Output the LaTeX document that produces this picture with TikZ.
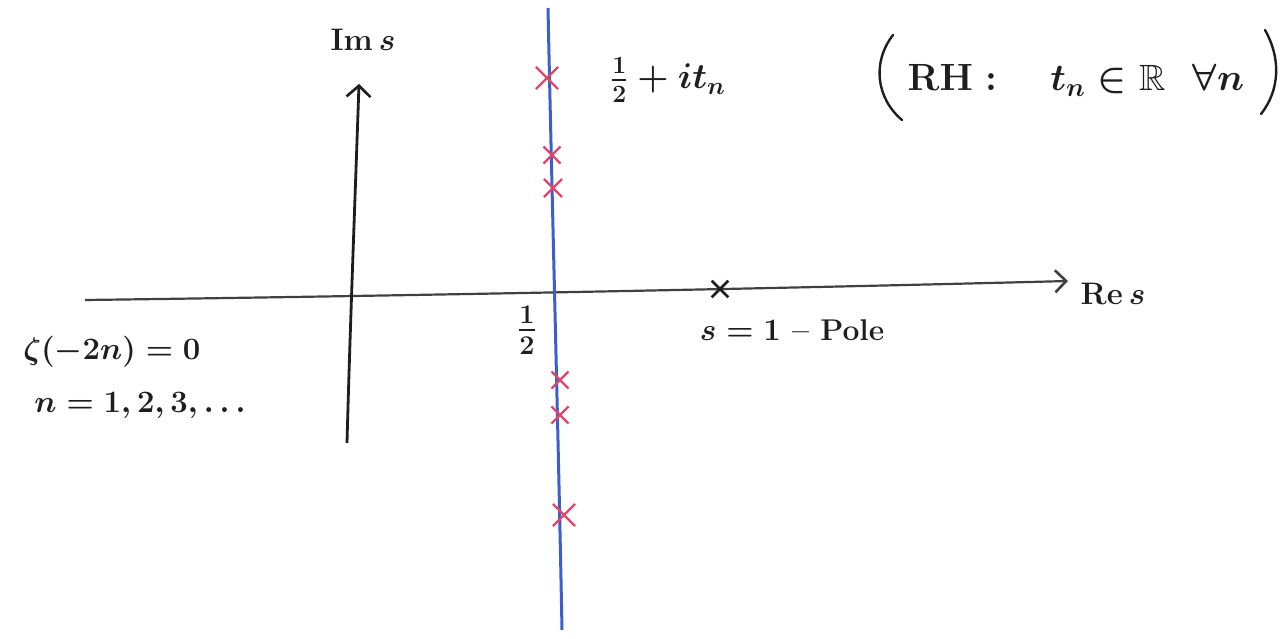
\documentclass[tikz,border=0pt]{standalone}
\usepackage{amssymb}
\usetikzlibrary{arrows.meta,shapes.misc}
\definecolor{penblue}{RGB}{60,95,205}
\definecolor{penred}{RGB}{225,70,105}
\definecolor{ink}{RGB}{30,30,30}
\tikzset{
  axis/.style={draw=ink, line width=2.8pt, -{Straight Barb[length=11pt,width=24pt,line width=2.6pt]}},
  realaxis/.style={draw=ink!85, line width=2.2pt, -{Straight Barb[length=11pt,width=22pt,line width=2.6pt]}},
  critline/.style={draw=penblue, line width=3pt},
  zero/.style={cross out, draw=penred, line width=2.2pt, minimum size=#1, inner sep=0pt},
  zero/.default=16pt,
  pole/.style={cross out, draw=ink, line width=2.6pt, minimum size=14pt, inner sep=0pt},
  paren/.style={draw=ink, line width=2.4pt, line cap=round},
  lbl/.style={text=ink, font=\fontsize{20}{24}\selectfont\boldmath\bfseries, inner sep=0pt, scale=1.5}
}
\begin{document}
\begin{tikzpicture}[x=1pt,y=-1pt]
\useasboundingbox (0,0) rectangle (1286,639);
% axes
\coordinate (reA) at (85,300);
\coordinate (reB) at (1068,281);
\draw[realaxis] (reA) .. controls (400,296) and (800,288) .. (reB);
\coordinate (imA) at (347,443);
\coordinate (imB) at (359,84);
\draw[axis] (imA) .. controls (350,330) and (355,200) .. (imB);
\coordinate (clA) at (548,8);
\coordinate (clB) at (562,630);
\draw[critline] (clA) .. controls (552,200) and (558,420) .. (clB);
% zeros
\node[zero=20pt] (z1) at (547,78) {};
\node[zero=15pt] (z2) at (552,155) {};
\node[zero=16pt] (z3) at (553,188) {};
\node[zero=15pt] (z4) at (560,380) {};
\node[zero=15pt] (z5) at (560,415) {};
\node[zero=20pt] (z6) at (564,515) {};
\node[pole] (p1) at (720,289) {};
% labels
\node[lbl] (ims) at (363,40) {$\mathrm{Im}\,s$};
\node[lbl] (res) at (1113,294) {$\mathrm{Re}\,s$};
\node[lbl, scale=1.25] (half) at (527,330) {$\frac{1}{2}$};
\node[lbl] (poletext) at (792,330) {$s=1$ -- Pole};
\node[lbl] (triv) at (112,352) {$\zeta(-2n)=0$};
\node[lbl] (nlist) at (140,405) {$n=1,2,3,\ldots$};
\node[lbl, scale=1.22] (rh) at (1076,80) {$\mathrm{RH}:\ \ \ t_n\in\mathbb{R}\ \ \forall n$};
\node[lbl, scale=1.15] (crit) at (668,80) {$\frac{1}{2}+it_n$};
% big parentheses round the RH statement
\coordinate (lpA) at (893,35);
\coordinate (lpB) at (902,120);
\draw[paren] (lpA) .. controls (872,62) and (876,98) .. (lpB);
\coordinate (rpA) at (1265,30);
\coordinate (rpB) at (1261,114);
\draw[paren] (rpA) .. controls (1281,58) and (1280,90) .. (rpB);
\end{tikzpicture}
\end{document}
